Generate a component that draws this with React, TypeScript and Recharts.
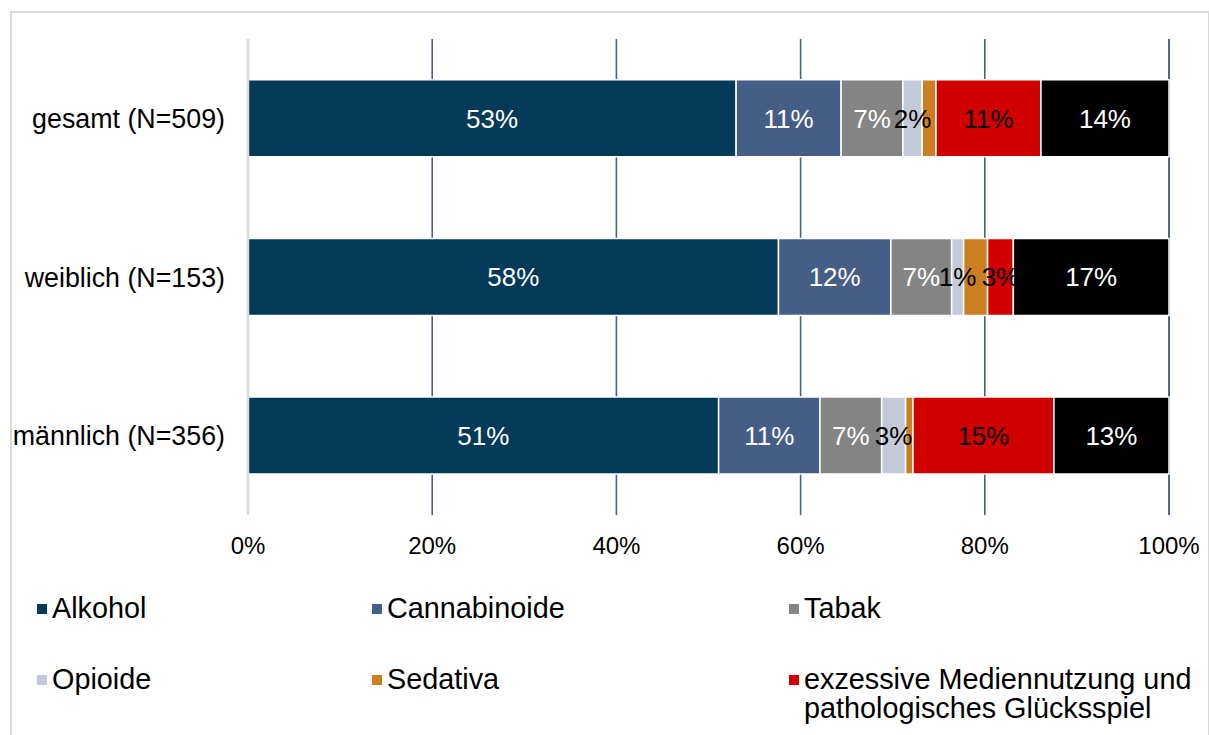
import React from 'react'
import {
  BarChart,
  Bar,
  XAxis,
  YAxis,
  CartesianGrid,
  LabelList,
} from 'recharts'

const categories = ['gesamt (N=509)', 'weiblich (N=153)', 'männlich (N=356)']

const alkohol = [53.0, 57.6, 51.1]
const cannabinoide = [11.4, 12.2, 11.0]
const tabak = [6.7, 6.6, 6.7]
const opioide = [2.1, 1.3, 2.6]
const sedativa = [1.5, 2.6, 0.8]
const medien = [11.4, 2.8, 15.3]
const sonstige = [13.9, 16.9, 12.5]

const xTicks = [0, 20, 40, 60, 80, 100]

const series = [
  { key: 'alkohol', name: 'Alkohol', color: '#023A58', label: '#ffffff', legend: true },
  { key: 'cannabinoide', name: 'Cannabinoide', color: '#445E86', label: '#ffffff', legend: true },
  { key: 'tabak', name: 'Tabak', color: '#848484', label: '#ffffff', legend: true },
  { key: 'opioide', name: 'Opioide', color: '#C4CAD8', label: '#000000', legend: true },
  { key: 'sedativa', name: 'Sedativa', color: '#CC7F22', label: null, legend: true },
  {
    key: 'medien',
    name: 'exzessive Mediennutzung und pathologisches Glücksspiel',
    color: '#D10000',
    label: '#000000',
    legend: true,
  },
  { key: 'sonstige', name: 'Sonstige', color: '#000000', label: '#ffffff', legend: false },
]

const data = categories.map((name, i) => ({
  name,
  alkohol: alkohol[i],
  cannabinoide: cannabinoide[i],
  tabak: tabak[i],
  opioide: opioide[i],
  sedativa: sedativa[i],
  medien: medien[i],
  sonstige: sonstige[i],
}))

const font = 'Arial, "Liberation Sans", sans-serif'

const legendItems = series.filter((s) => s.legend)

export default function App() {
  return (
    <div
      style={{
        position: 'absolute',
        left: 0,
        top: 0,
        width: 1209,
        height: 735,
        overflow: 'hidden',
        background: '#fff',
        fontFamily: font,
      }}
    >
      <div
        style={{
          position: 'absolute',
          left: 10,
          top: 11,
          width: 1196,
          height: 760,
          border: '2px solid #D9D9D9',
        }}
      />
      <div style={{ position: 'absolute', left: 0, top: 0 }}>
        <BarChart
          width={1209}
          height={580}
          data={data}
          layout="vertical"
          margin={{ top: 39, right: 40, left: 0, bottom: 25 }}
          barCategoryGap="25.7%"
        >
          <CartesianGrid
            horizontal={false}
            stroke="#4A5F85"
            strokeWidth={1.6}
          />
          <XAxis
            type="number"
            domain={[0, 100]}
            ticks={xTicks}
            tickFormatter={(v) => `${v}%`}
            axisLine={false}
            tickLine={false}
            tickSize={0}
            tickMargin={22}
            height={40}
            tick={{ fill: '#000', fontSize: 24, fontFamily: font }}
          />
          <YAxis
            type="category"
            dataKey="name"
            width={248}
            axisLine={{ stroke: '#D9D9D9', strokeWidth: 2.5 }}
            tickLine={false}
            tickSize={0}
            tickMargin={23}
            tick={{ fill: '#000', fontSize: 26.8, fontFamily: font }}
          />
          {series.map((s) => (
            <Bar
              key={s.key}
              dataKey={s.key}
              name={s.name}
              stackId="a"
              fill={s.color}
              stroke="#ffffff"
              strokeWidth={1.5}
              isAnimationActive={false}
            >
              {s.label && (
                <LabelList
                  dataKey={s.key}
                  position="center"
                  formatter={(v: number) => `${Math.round(v)}%`}
                  fill={s.label}
                  style={{ fontSize: 26, fontFamily: font }}
                />
              )}
            </Bar>
          ))}
        </BarChart>
      </div>
      {legendItems.map((s, i) => {
        const col = i % 3
        const row = Math.floor(i / 3)
        const lefts = [37, 372, 789]
        return (
          <div
            key={s.key}
            style={{
              position: 'absolute',
              left: lefts[col],
              top: 594 + row * 71,
              display: 'flex',
              alignItems: 'flex-start',
              fontSize: 28.8,
              lineHeight: '29px',
              color: '#000',
              width: 420,
            }}
          >
            <span
              style={{
                display: 'inline-block',
                width: 10,
                height: 10,
                background: s.color,
                marginTop: 10,
                marginRight: 5,
                flexShrink: 0,
              }}
            />
            <span style={{ width: col === 2 ? 405 : 320 }}>{s.name}</span>
          </div>
        )
      })}
    </div>
  )
}
